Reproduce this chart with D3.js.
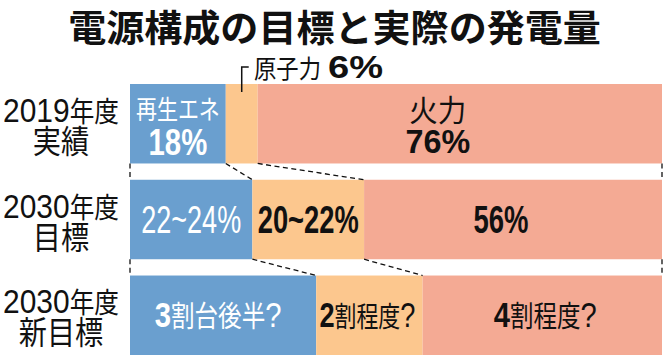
<!DOCTYPE html>
<html><head><meta charset="utf-8">
<script src="https://cdn.jsdelivr.net/npm/d3@7"></script>
<style>html,body{margin:0;padding:0;background:#fff;} svg{display:block;}</style>
</head><body>
<script>
// ---- data ----
const title = "電源構成の目標と実際の発電量";
const rowYears = ["2019年度", "2030年度", "2030年度"];
const rowKinds = ["実績", "目標", "新目標"];
const sources = ["再生エネ", "原子力", "火力"];
const renewable = [18, 23, 35];
const nuclear = [6, 21, 20];
const thermal = [76, 56, 45];
const renewableLabels = ["18%", "22~24%", "3割台後半?"];
const nuclearLabels = ["6%", "20~22%", "2割程度?"];
const thermalLabels = ["76%", "56%", "4割程度?"];

// ---- layout / style ----
const W = 668, H = 360;
const keys = ["renewable", "nuclear", "thermal"];
const colors = {renewable: "#6a9fcf", nuclear: "#fcc78e", thermal: "#f4aa94"};
const table = rowYears.map((r, i) => ({row: i, renewable: renewable[i], nuclear: nuclear[i], thermal: thermal[i]}));

const svg = d3.select("body").append("svg").attr("width", W).attr("height", H);
svg.append("rect").attr("width", W).attr("height", H).attr("fill", "#fff");

const x = d3.scaleLinear().domain([0, 100]).range([130, 662]);
const y = d3.scaleBand().domain(d3.range(rowYears.length)).range([84, 355]).paddingInner(0.17);
const stack = d3.stack().keys(keys)(table);

const ASCII_FONT = "'Liberation Sans', Arial, Helvetica, sans-serif";
const CJK_FONT = "'Noto Sans CJK JP', 'Noto Sans CJK SC', sans-serif";
function splitRuns(str) {
  const out = [];
  for (const ch of str) {
    const a = ch.charCodeAt(0) < 128;
    if (out.length && out[out.length - 1].ascii === a) out[out.length - 1].t += ch;
    else out.push({t: ch, ascii: a});
  }
  return out;
}
function addRuns(t, line, first) {
  splitRuns(line.str).forEach((r, i) => {
    const b = line.bold;
    const bold = b === "all" || (b === "lead" && i === 0 && r.ascii) || (b === "ascii" && r.ascii);
    const ts = t.append("tspan").text(r.t)
      .attr("font-family", r.ascii ? ASCII_FONT : CJK_FONT)
      .attr("font-size", r.ascii ? line.ds : line.ks)
      .attr("font-weight", bold ? 700 : 400);
    if (i === 0 && first !== undefined) ts.attr("x", 0).attr("y", line.dy || 0);
  });
}
// one text element (possibly several lines), condensed horizontally so that
// line `refLine` gets width `w`
function block(parent, px, py, lines, o) {
  const anchor = o.anchor || "middle";
  let sx = 1;
  if (o.w) {
    const tmp = parent.append("text");
    addRuns(tmp, lines[o.refLine || 0]);
    const nat = tmp.node().getComputedTextLength();
    tmp.remove();
    if (nat > 0) sx = o.w / nat;
  }
  const t = parent.append("text").attr("text-anchor", anchor).attr("fill", o.fill || "#111")
    .attr("transform", `translate(${px},${py}) scale(${sx},1)`);
  lines.forEach((ln, k) => addRuns(t, ln, k));
  return t;
}

// title
block(svg, 334.5, 42, [{str: title, ks: 37, ds: 37, bold: "all"}], {w: 533});

// bars
const g = svg.append("g");
stack.forEach(layer => {
  g.selectAll(null).data(layer).join("rect")
    .attr("x", d => x(d[0])).attr("width", d => x(d[1]) - x(d[0]))
    .attr("y", d => y(d.data.row)).attr("height", y.bandwidth())
    .attr("fill", colors[layer.key]);
});

// dashed connectors between consecutive bars
const conn = svg.append("g").attr("stroke", "#111").attr("stroke-width", 1.3)
  .attr("stroke-dasharray", "5,3.5").attr("fill", "none");
for (let i = 0; i < rowYears.length - 1; i++) {
  const b0 = [0, renewable[i], renewable[i] + nuclear[i], 100];
  const b1 = [0, renewable[i + 1], renewable[i + 1] + nuclear[i + 1], 100];
  const yA = y(i) + y.bandwidth(), yB = y(i + 1);
  b0.forEach((v, k) => {
    conn.append("line").attr("x1", x(v)).attr("y1", yA).attr("x2", x(b1[k])).attr("y2", yB);
  });
}

// row labels (two lines in one text)
rowYears.forEach((r, i) => {
  const c = y(i) + y.bandwidth() / 2;
  block(svg, 61, c, [
    {str: r, ks: 28, ds: 34, dy: -2},
    {str: rowKinds[i], ks: 32, ds: 32, dy: 29}
  ], {w: 116});
});

const mid = (k, i) => { const L = stack[keys.indexOf(k)][i]; return (x(L[0]) + x(L[1])) / 2; };

// row 0
const t0 = y(0);
block(svg, mid("renewable", 0), t0, [
  {str: sources[0], ks: 26.5, ds: 26.5, dy: 35},
  {str: renewableLabels[0], ks: 37, ds: 37, bold: "all", dy: 71}
], {w: 84, fill: "#fff"});
block(svg, mid("thermal", 0) - 22, t0, [
  {str: sources[2], ks: 30, ds: 30, dy: 37},
  {str: thermalLabels[0], ks: 34, ds: 34, bold: "all", dy: 69}
], {w: 57});

// nuclear annotation (row 0)
const nx = mid("nuclear", 0);
svg.append("path").attr("d", `M${nx},${t0 + 8}V67H${nx + 7}`).attr("stroke", "#111").attr("stroke-width", 1.5).attr("fill", "none");
block(svg, 254, 78, [{str: sources[1], ks: 25.5, ds: 25.5}], {w: 67, anchor: "start"});
block(svg, 328, 78, [{str: nuclearLabels[0], ks: 31, ds: 31, bold: "all"}], {w: 55, anchor: "start"});

// row 1
const c1 = y(1) + y.bandwidth() / 2;
block(svg, mid("renewable", 1), c1 + 13, [{str: renewableLabels[1], ks: 38, ds: 38}], {w: 100, fill: "#fff"});
block(svg, mid("nuclear", 1), c1 + 13, [{str: nuclearLabels[1], ks: 38, ds: 38, bold: "all"}], {w: 101});
block(svg, mid("thermal", 1) - 12, c1 + 13, [{str: thermalLabels[1], ks: 38, ds: 38, bold: "all"}], {w: 55});

// row 2
const c2 = y(2) + y.bandwidth() / 2;
block(svg, mid("renewable", 2) - 5, c2 + 12, [{str: renewableLabels[2], ks: 29, ds: 36, bold: "lead"}], {w: 127, fill: "#fff"});
block(svg, mid("nuclear", 2) - 2, c2 + 12, [{str: nuclearLabels[2], ks: 29, ds: 36, bold: "lead"}], {w: 96});
block(svg, mid("thermal", 2) + 3, c2 + 12, [{str: thermalLabels[2], ks: 29, ds: 36, bold: "lead"}], {w: 103});
</script>
</body></html>
